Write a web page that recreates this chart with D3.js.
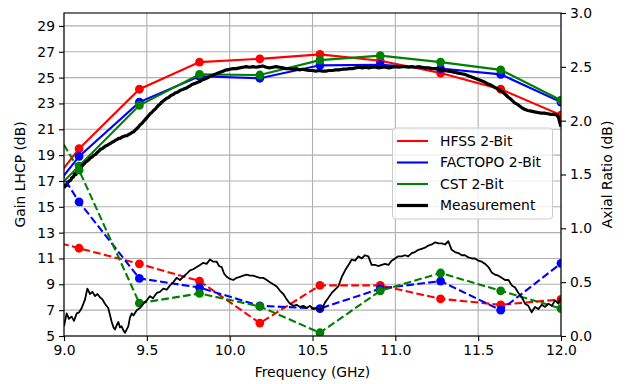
<!DOCTYPE html>
<html><head><meta charset="utf-8">
<script src="https://cdn.jsdelivr.net/npm/d3@7"></script>
<style>body{margin:0;background:#fff} svg{display:block} text{font-family:"DejaVu Sans",sans-serif;fill:#000}</style>
</head><body><svg id="c" width="626" height="384"></svg>
<script>
// ---------- data ----------
const xTicks = [9.0, 9.5, 10.0, 10.5, 11.0, 11.5, 12.0];
const leftTicks = [5, 7, 9, 11, 13, 15, 17, 19, 21, 23, 25, 27, 29];
const rightTicks = [0.0, 0.5, 1.0, 1.5, 2.0, 2.5, 3.0];

const simFreq = [8.727, 9.091, 9.455, 9.818, 10.182, 10.545, 10.909, 11.273, 11.636, 12.0];
const hfssGain    = [13.5, 19.5, 24.1, 26.2, 26.45, 26.8, 26.3, 25.35, 24.1, 22.1];
const factopoGain = [13.0, 18.9, 23.1, 25.1, 24.95, 25.95, 26.0, 25.7, 25.25, 23.1];
const cstGain     = [13.5, 18.15, 22.85, 25.25, 25.2, 26.35, 26.7, 26.2, 25.6, 23.25];
const hfssAR      = [0.965, 0.815, 0.67, 0.51, 0.12, 0.47, 0.47, 0.345, 0.29, 0.34];
const factopoAR   = [2.13, 1.245, 0.535, 0.45, 0.28, 0.255, 0.44, 0.51, 0.24, 0.675];
const cstAR       = [2.48, 1.54, 0.305, 0.395, 0.275, 0.03, 0.42, 0.585, 0.42, 0.255];

const measGain = [[9.000,16.45],[9.008,16.7],[9.016,16.65],[9.024,16.9],[9.032,17.0],[9.040,17.05],[9.048,17.25],[9.056,17.3],[9.064,17.55],[9.072,17.5],[9.080,17.75],[9.090,17.9],[9.100,18.05],[9.110,18.2],[9.120,18.3],[9.130,18.45],[9.140,18.55],[9.150,18.65],[9.160,18.8],[9.170,18.85],[9.180,19.0],[9.190,19.05],[9.200,19.2],[9.210,19.3],[9.220,19.45],[9.230,19.5],[9.240,19.6],[9.250,19.7],[9.260,19.75],[9.270,19.85],[9.280,19.9],[9.290,20.0],[9.300,20.05],[9.310,20.15],[9.320,20.2],[9.330,20.3],[9.340,20.3],[9.350,20.4],[9.360,20.45],[9.370,20.5],[9.380,20.5],[9.390,20.6],[9.400,20.65],[9.410,20.75],[9.420,20.8],[9.430,20.95],[9.440,21.05],[9.450,21.2],[9.460,21.35],[9.470,21.45],[9.480,21.6],[9.490,21.75],[9.500,21.9],[9.510,22.05],[9.520,22.2],[9.530,22.3],[9.540,22.45],[9.550,22.55],[9.560,22.7],[9.570,22.85],[9.580,22.95],[9.590,23.1],[9.600,23.2],[9.610,23.3],[9.620,23.4],[9.630,23.45],[9.640,23.55],[9.650,23.65],[9.660,23.7],[9.670,23.8],[9.680,23.85],[9.690,23.9],[9.700,24.0],[9.710,24.05],[9.720,24.1],[9.730,24.15],[9.740,24.2],[9.750,24.3],[9.760,24.35],[9.770,24.45],[9.780,24.5],[9.790,24.55],[9.800,24.6],[9.810,24.65],[9.820,24.7],[9.830,24.8],[9.840,24.85],[9.850,24.9],[9.860,24.95],[9.870,25.0],[9.880,25.1],[9.890,25.15],[9.900,25.2],[9.910,25.25],[9.920,25.3],[9.930,25.35],[9.940,25.4],[9.950,25.45],[9.960,25.5],[9.970,25.55],[9.980,25.6],[9.990,25.6],[10.00,25.65],[10.02,25.7],[10.04,25.7],[10.06,25.75],[10.08,25.8],[10.10,25.85],[10.12,25.8],[10.14,25.85],[10.16,25.8],[10.18,25.85],[10.20,25.9],[10.22,25.8],[10.24,25.75],[10.26,25.8],[10.28,25.85],[10.30,25.8],[10.32,25.75],[10.34,25.7],[10.36,25.7],[10.38,25.65],[10.40,25.7],[10.42,25.6],[10.44,25.65],[10.46,25.6],[10.48,25.55],[10.50,25.55],[10.52,25.5],[10.54,25.55],[10.56,25.5],[10.58,25.5],[10.60,25.55],[10.62,25.55],[10.64,25.6],[10.66,25.6],[10.68,25.65],[10.70,25.65],[10.72,25.7],[10.74,25.7],[10.76,25.75],[10.78,25.8],[10.80,25.75],[10.82,25.8],[10.84,25.75],[10.86,25.8],[10.88,25.8],[10.90,25.75],[10.92,25.8],[10.94,25.8],[10.96,25.75],[10.98,25.8],[11.00,25.85],[11.02,25.8],[11.04,25.85],[11.06,25.85],[11.08,25.8],[11.10,25.85],[11.12,25.8],[11.14,25.85],[11.16,25.8],[11.18,25.75],[11.20,25.75],[11.22,25.7],[11.24,25.7],[11.26,25.65],[11.28,25.6],[11.30,25.55],[11.32,25.5],[11.34,25.45],[11.36,25.4],[11.38,25.35],[11.40,25.3],[11.42,25.25],[11.44,25.15],[11.46,25.05],[11.48,24.95],[11.50,24.85],[11.52,24.75],[11.54,24.65],[11.56,24.5],[11.58,24.4],[11.60,24.25],[11.62,24.1],[11.64,23.95],[11.66,23.75],[11.68,23.5],[11.70,23.3],[11.72,23.05],[11.74,22.9],[11.76,22.7],[11.78,22.55],[11.80,22.45],[11.82,22.4],[11.84,22.35],[11.86,22.3],[11.88,22.25],[11.90,22.25],[11.92,22.2],[11.94,22.15],[11.96,22.15],[11.975,22.1],[11.985,21.9],[11.995,21.4],[12.0,21.2]];

const measAR = [[9.000,0.09],[9.016,0.21],[9.030,0.16],[9.046,0.18],[9.060,0.14],[9.077,0.21],[9.091,0.22],[9.107,0.26],[9.127,0.34],[9.141,0.44],[9.157,0.39],[9.172,0.41],[9.187,0.37],[9.202,0.39],[9.217,0.36],[9.232,0.34],[9.247,0.30],[9.267,0.26],[9.288,0.13],[9.299,0.08],[9.308,0.06],[9.318,0.10],[9.328,0.13],[9.338,0.08],[9.348,0.09],[9.359,0.05],[9.368,0.03],[9.378,0.06],[9.388,0.09],[9.398,0.17],[9.409,0.21],[9.419,0.19],[9.439,0.24],[9.459,0.26],[9.479,0.30],[9.499,0.33],[9.519,0.37],[9.537,0.35],[9.560,0.40],[9.579,0.41],[9.599,0.44],[9.620,0.43],[9.640,0.47],[9.660,0.50],[9.680,0.54],[9.700,0.52],[9.720,0.55],[9.741,0.58],[9.761,0.61],[9.780,0.62],[9.801,0.64],[9.821,0.66],[9.841,0.68],[9.861,0.67],[9.881,0.71],[9.901,0.69],[9.922,0.69],[9.936,0.65],[9.952,0.64],[9.966,0.58],[9.982,0.55],[10.002,0.53],[10.022,0.52],[10.042,0.54],[10.062,0.55],[10.082,0.56],[10.103,0.57],[10.123,0.56],[10.143,0.56],[10.163,0.55],[10.183,0.54],[10.203,0.54],[10.224,0.52],[10.243,0.50],[10.263,0.48],[10.284,0.46],[10.304,0.42],[10.324,0.39],[10.344,0.34],[10.364,0.30],[10.384,0.28],[10.404,0.29],[10.425,0.27],[10.445,0.28],[10.465,0.26],[10.485,0.28],[10.505,0.25],[10.525,0.26],[10.545,0.24],[10.563,0.27],[10.575,0.31],[10.594,0.35],[10.616,0.40],[10.636,0.43],[10.656,0.46],[10.677,0.55],[10.697,0.61],[10.717,0.66],[10.737,0.71],[10.757,0.70],[10.777,0.74],[10.797,0.72],[10.817,0.75],[10.837,0.74],[10.857,0.66],[10.877,0.66],[10.897,0.65],[10.918,0.66],[10.938,0.67],[10.958,0.66],[10.978,0.70],[10.998,0.72],[11.018,0.74],[11.038,0.74],[11.058,0.75],[11.078,0.74],[11.099,0.77],[11.119,0.78],[11.139,0.80],[11.159,0.81],[11.179,0.82],[11.199,0.84],[11.220,0.85],[11.240,0.87],[11.260,0.86],[11.280,0.86],[11.300,0.85],[11.320,0.88],[11.340,0.80],[11.360,0.78],[11.380,0.77],[11.401,0.75],[11.421,0.75],[11.441,0.73],[11.461,0.72],[11.481,0.72],[11.501,0.70],[11.521,0.69],[11.542,0.67],[11.562,0.64],[11.582,0.59],[11.602,0.57],[11.622,0.56],[11.642,0.54],[11.662,0.52],[11.683,0.52],[11.703,0.47],[11.723,0.45],[11.743,0.40],[11.763,0.36],[11.783,0.30],[11.803,0.28],[11.823,0.22],[11.843,0.27],[11.863,0.25],[11.884,0.29],[11.904,0.27],[11.924,0.30],[11.944,0.28],[11.964,0.33],[11.984,0.30],[11.994,0.35],[12.0,0.33]];

const seriesNames = ["HFSS 2-Bit", "FACTOPO 2-Bit", "CST 2-Bit", "Measurement"];
const seriesColors = ["#ff0000", "#0000ff", "#008000", "#000000"];

// ---------- layout ----------
const L = 64, R = 561, T = 13, B = 336;
const FS = "13.9px";
const svg = d3.select("#c");
const x = d3.scaleLinear().domain([9, 12]).range([L, R]);
const yL = d3.scaleLinear().domain([5, 30]).range([B, T]);
const yR = d3.scaleLinear().domain([0, 3]).range([B, T]);

svg.append("defs").append("clipPath").attr("id", "clip")
  .append("rect").attr("x", L).attr("y", T).attr("width", R - L).attr("height", B - T);

// grid
const grid = svg.append("g").attr("stroke", "#b0b0b0").attr("stroke-width", 1.1);
grid.selectAll(".gx").data(xTicks).join("line")
  .attr("x1", d => x(d)).attr("x2", d => x(d)).attr("y1", T).attr("y2", B);
grid.selectAll(".gy").data(leftTicks).join("line")
  .attr("x1", L).attr("x2", R).attr("y1", d => yL(d)).attr("y2", d => yL(d));

const plot = svg.append("g").attr("clip-path", "url(#clip)");

function drawSim(vals, yScale, color, dashed) {
  const pts = simFreq.map((f, i) => [f, vals[i]]);
  const line = d3.line().x(d => x(d[0])).y(d => yScale(d[1]));
  plot.append("path").datum(pts).attr("d", line)
    .attr("fill", "none").attr("stroke", color).attr("stroke-width", 2.1)
    .attr("stroke-dasharray", dashed ? "7.7,3.3" : null);
  plot.append("g").selectAll("circle").data(pts).join("circle")
    .attr("cx", d => x(d[0])).attr("cy", d => yScale(d[1])).attr("r", 4.4)
    .attr("fill", color);
}

drawSim(hfssGain, yL, seriesColors[0], false);
drawSim(factopoGain, yL, seriesColors[1], false);
drawSim(cstGain, yL, seriesColors[2], false);
plot.append("path").datum(measGain)
  .attr("d", d3.line().x(d => x(d[0])).y(d => yL(d[1])))
  .attr("fill", "none").attr("stroke", "#000").attr("stroke-width", 3.2).attr("stroke-linejoin", "round");

drawSim(hfssAR, yR, seriesColors[0], true);
drawSim(factopoAR, yR, seriesColors[1], true);
drawSim(cstAR, yR, seriesColors[2], true);
plot.append("path").datum(measAR)
  .attr("d", d3.line().x(d => x(d[0])).y(d => yR(d[1])))
  .attr("fill", "none").attr("stroke", "#000").attr("stroke-width", 1.8).attr("stroke-linejoin", "round");

// axes
function styleAxis(g) {
  g.select(".domain").remove();
  g.selectAll(".tick line").attr("stroke", "#000").attr("stroke-width", 1.1);
  g.selectAll(".tick text").attr("font-size", FS).attr("font-family", "DejaVu Sans").attr("fill", "#000");
}
svg.append("g").attr("transform", `translate(0,${B})`)
  .call(d3.axisBottom(x).tickValues(xTicks).tickFormat(d3.format(".1f")).tickSize(5).tickPadding(4))
  .call(styleAxis);
svg.append("g").attr("transform", `translate(${L},0)`)
  .call(d3.axisLeft(yL).tickValues(leftTicks).tickFormat(d3.format("d")).tickSize(5).tickPadding(4))
  .call(styleAxis);
svg.append("g").attr("transform", `translate(${R},0)`)
  .call(d3.axisRight(yR).tickValues(rightTicks).tickFormat(d3.format(".1f")).tickSize(5).tickPadding(4))
  .call(styleAxis);

// frame
svg.append("rect").attr("x", L).attr("y", T).attr("width", R - L).attr("height", B - T)
  .attr("fill", "none").attr("stroke", "#000").attr("stroke-width", 1.1);

// labels
svg.append("text").attr("x", (L + R) / 2).attr("y", 377).attr("text-anchor", "middle")
  .attr("font-size", FS).text("Frequency (GHz)");
svg.append("text").attr("transform", `translate(25,${(T + B) / 2}) rotate(-90)`)
  .attr("text-anchor", "middle").attr("font-size", FS).text("Gain LHCP (dB)");
svg.append("text").attr("transform", `translate(612,${(T + B) / 2}) rotate(-90)`)
  .attr("text-anchor", "middle").attr("font-size", FS).text("Axial Ratio (dB)");

// legend
const lg = svg.append("g");
lg.append("rect").attr("x", 392.5).attr("y", 128).attr("width", 160).attr("height", 91).attr("rx", 3)
  .attr("fill", "#fff").attr("fill-opacity", 0.8).attr("stroke", "#cccccc").attr("stroke-width", 1);
const ly = [141, 162.5, 184, 205.5];
seriesNames.forEach((n, i) => {
  lg.append("line").attr("x1", 397).attr("x2", 428).attr("y1", ly[i]).attr("y2", ly[i])
    .attr("stroke", seriesColors[i]).attr("stroke-width", i === 3 ? 3.2 : 2.1);
  lg.append("text").attr("x", 440).attr("y", ly[i]).attr("dy", "0.35em")
    .attr("font-size", FS).text(n);
});
</script></body></html>
